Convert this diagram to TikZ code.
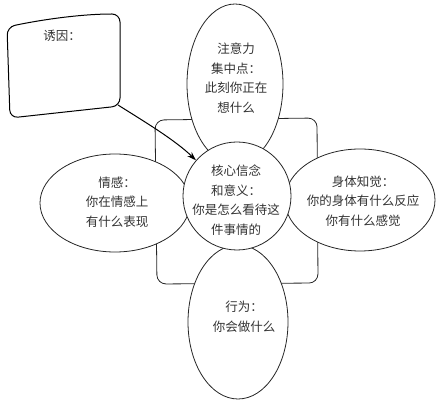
\documentclass[tikz,border=0pt]{standalone}
\usepackage{fontspec}
\newfontfamily\cjk{Noto Sans CJK SC}
\usetikzlibrary{arrows.meta}
\tikzset{
  outline/.style={draw=black!85, line width=0.8pt},
  petal/.style={outline, fill=white},
  label/.style={align=center, text=black!80, inner sep=0pt,
    font=\cjk\fontsize{12.5}{19.5}\selectfont},
  link/.style={draw=black, line width=1pt, -{Stealth[length=9pt,width=6pt]}}
}
\begin{document}
\begin{tikzpicture}[x=1pt,y=-1pt]
\useasboundingbox (0,0) rectangle (442,403);
% background square
\draw[outline, rounded corners=9pt] (155,120) -- (317,118) -- (318,283) -- (157,284) -- cycle;
% petals
\draw[petal] (235,84) ellipse [x radius=48, y radius=80];
\draw[petal] (115,203) ellipse [x radius=75, y radius=49];
\draw[petal] (360,200) ellipse [x radius=75, y radius=51];
\draw[petal] (238,322) ellipse [x radius=50, y radius=77];
% trigger box
\draw[line width=1pt, rounded corners=8pt] (7,27) .. controls (40,20) and (80,14) .. (120,14)
  -- (120,106) -- (10,118) -- cycle;
\coordinate (boxcorner) at (118,105);
\node[label] (trigger) at (62,36) {诱因：};
% core circle
\node[circle, petal, minimum size=108pt, inner sep=0pt] (core) at (237,196) {};
\draw[link] (boxcorner) .. controls (145,122) and (175,140) .. (core.139);
% texts
\node[label] (attention) at (236,78) {注意力\\集中点：\\此刻你正在\\想什么};
\node[label] (belief) at (236,200) {核心信念\\和意义：\\你是怎么看待这\\件事情的};
\node[label] (emotion) at (117,202) {情感：\\你在情感上\\有什么表现};
\node[label] (body) at (363,201) {身体知觉：\\你的身体有什么反应\\你有什么感觉};
\node[label] (action) at (244,317) {行为：\\你会做什么};
\end{tikzpicture}
\end{document}
